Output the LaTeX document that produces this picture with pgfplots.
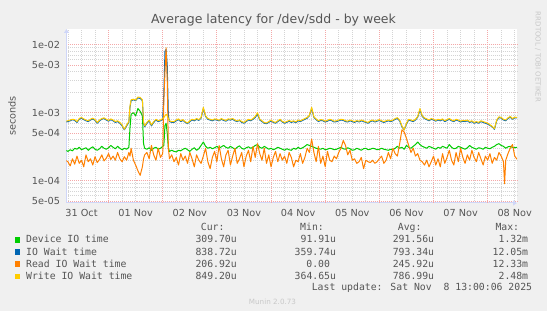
\documentclass[border=0pt]{standalone}
\usepackage{pgfplots}
\pgfplotsset{compat=1.18}
\usepackage{pgfplotstable}
\usetikzlibrary{arrows.meta}
\usepackage{fontspec}
\setmainfont{DejaVu Sans}
\newfontfamily\mono{DejaVu Sans Mono}
\definecolor{bgc}{HTML}{F0F0F0}
\definecolor{fontc}{HTML}{555555}
\definecolor{axisc}{HTML}{CFD6F8}
\definecolor{mgridc}{HTML}{F4A8A8}
\definecolor{gridc}{HTML}{D4D4D4}
\definecolor{devc}{HTML}{00CC00}
\definecolor{ioc}{HTML}{0066B3}
\definecolor{rdc}{HTML}{FF8000}
\definecolor{wrc}{HTML}{FFCC00}
\definecolor{wmc}{HTML}{C8C8C8}

% hours since 31 Oct 00:00; values in microseconds
\pgfplotstableread{
h dev io rd wr
5 280 730 200 750
6 270 740 190 760
7 285 760 165 780
8 275 790 210 800
9 300 770 175 790
10 290 720 230 740
11 310 800 180 820
12 285 830 200 850
13 295 790 160 810
14 305 760 240 780
15 280 740 190 760
16 300 780 210 800
17 315 810 170 830
18 290 770 225 790
19 280 700 185 720
20 295 760 205 780
21 320 800 240 820
22 300 820 195 840
23 290 780 215 800
24 305 750 250 770
25 330 790 205 810
26 310 760 230 780
27 295 720 200 740
28 320 740 260 760
29 300 700 210 720
30 285 640 190 660
31 300 560 225 570
32 290 640 200 660
33 310 720 260 740
33.5 600 1200 230 1250
34 950 1500 300 1550
35 1000 1550 200 1580
36 900 1500 170 1530
37 1150 1650 140 1700
38 1050 1620 120 1680
39 900 1500 160 1550
39.5 350 700 210 720
40 300 620 240 640
41 290 700 260 720
42 305 760 210 780
43 280 640 330 660
44 300 720 240 740
45 310 780 200 800
46 290 740 300 760
47 300 760 220 780
48 320 800 250 820
48.5 330 1900 1500 840
49 650 8000 4000 900
49.5 700 8500 9000 950
50 500 5000 3000 900
50.5 300 900 300 820
51 270 740 210 760
52 280 720 240 740
53 270 720 190 740
54 265 760 220 780
55 280 790 170 810
56 275 740 250 760
57 290 770 200 790
58 300 720 230 735
59 285 690 180 705
60 270 740 260 760
61 290 780 210 800
62 305 760 160 780
63 280 800 240 820
64 295 770 200 790
65 330 830 180 850
66 370 1150 230 1200
67 320 880 300 900
68 300 800 190 820
69 310 780 150 800
70 295 760 220 780
71 305 790 270 810
72 320 780 190 800
73 300 760 330 775
74 315 800 210 820
75 330 770 160 790
76 310 750 240 770
77 300 790 280 810
78 320 780 170 800
79 305 800 230 820
80 290 760 300 780
81 310 740 180 755
82 325 770 210 785
83 300 720 260 740
84 290 700 160 720
85 305 740 230 760
86 315 780 280 800
87 300 760 190 780
88 310 800 320 820
89 330 850 220 880
90 340 960 350 1000
91 310 780 250 800
92 300 740 200 760
93 320 700 300 715
94 305 690 180 705
95 290 720 240 740
96 300 760 160 780
97 285 720 220 735
98 295 700 270 720
99 310 740 190 760
100 300 780 250 800
101 290 730 200 745
102 280 700 230 720
103 295 720 180 740
104 285 750 260 770
105 280 720 220 740
106 300 740 160 760
107 290 710 200 730
108 310 760 190 780
109 295 740 250 760
110 305 770 180 790
111 320 800 220 820
112 340 830 300 850
113 330 900 260 920
114 320 1150 410 1200
115 310 850 260 870
116 300 790 190 810
117 295 740 320 760
118 290 770 180 790
119 300 760 230 780
120 285 730 160 750
121 290 750 270 770
122 300 780 200 800
123 295 760 190 780
124 285 730 230 750
125 290 740 210 760
126 300 760 260 780
127 310 780 300 800
128 295 770 390 790
129 290 740 330 760
130 305 730 240 750
131 295 760 280 780
132 280 740 200 760
133 285 720 210 740
134 300 750 180 765
135 290 730 190 750
136 280 760 220 780
137 295 740 150 760
138 300 720 200 735
139 285 700 190 720
140 290 740 185 760
141 300 760 200 780
142 295 730 180 750
143 285 750 190 770
144 290 770 210 790
145 300 740 230 760
146 290 720 180 740
147 285 740 200 760
148 280 760 260 780
149 290 740 210 760
150 285 760 300 780
151 300 800 250 820
152 320 820 230 845
153 300 760 350 780
154 310 620 560 640
155 290 560 520 560
156 330 680 420 700
157 310 780 330 800
158 300 760 260 780
159 320 740 300 760
160 340 780 230 800
161 370 860 250 880
162 340 1100 200 1150
163 320 880 190 900
164 310 820 170 840
165 300 790 200 810
166 320 760 160 780
167 310 800 190 820
168 300 780 230 800
169 290 750 170 770
170 310 780 210 800
171 300 760 160 780
172 320 790 250 810
173 310 740 180 760
174 300 770 220 790
175 340 800 280 820
176 310 760 200 780
177 295 740 170 760
178 300 780 260 800
179 320 760 190 780
180 310 730 300 750
181 300 750 220 770
182 290 740 180 760
183 305 760 240 780
184 330 720 200 740
185 310 740 280 760
186 300 700 220 720
187 290 720 190 740
188 305 700 260 720
189 300 740 210 760
190 290 720 170 740
191 310 700 230 720
192 300 680 200 700
193 295 650 250 665
194 310 620 180 630
195 320 570 220 580
196 340 760 200 780
197 350 850 260 870
198 330 830 230 850
199 320 780 190 800
199.5 310 770 90 790
200 300 760 200 780
201 315 820 250 840
202 320 860 300 880
203 310 800 340 820
204 305 840 230 860
205 309.7 838.72 206.92 849.2
}\data

\begin{document}
\begin{tikzpicture}
\fill[bgc] (0,0) rectangle (547pt,311pt);
\begin{axis}[
  at={(66.5pt,108pt)}, anchor=south west,
  width=450.5pt, height=174pt, scale only axis,
  xmin=5.36, xmax=205,
  ymode=log, log basis y=10, ymin=47, ymax=17000,
  axis x line*=bottom, axis y line*=left,
  axis line style={draw=axisc, line width=1pt},
  x axis line style={-{Triangle[length=4pt,width=5pt]}},
  y axis line style={-{Triangle[length=4pt,width=5pt]}},
  axis background/.style={fill=white},
  xtick={12,36,...,204},
  xticklabels={31 Oct,01 Nov,02 Nov,03 Nov,04 Nov,05 Nov,06 Nov,07 Nov,08 Nov},
  minor xtick={6,12,...,204},
  extra x ticks={24,48,...,192},
  extra x tick labels={},
  extra x tick style={grid=major},
  xmajorgrids=false, xminorgrids=true,
  ytick={50,100,500,1000,5000,10000},
  yticklabels={5e-05,1e-04,5e-04,1e-03,5e-03,1e-02},
  minor ytick={60,70,80,90,200,300,400,600,700,800,900,2000,3000,4000,6000,7000,8000,9000},
  ymajorgrids=true, yminorgrids=true,
  major grid style={dash pattern=on 1pt off 1pt, draw=mgridc, line width=0.8pt},
  minor grid style={dash pattern=on 1pt off 1pt, draw=gridc, line width=0.8pt},
  tick style={draw=none},
  ticklabel style={font=\fontsize{9.7}{11}\selectfont, text=fontc},
  xticklabel style={yshift=-2.5pt},
  yticklabel style={xshift=-3pt},
  clip=true,
]
\addplot[devc, line width=1pt, mark=none, line join=round] table[x=h,y=dev]{\data};
\addplot[ioc, line width=1pt, mark=none, line join=round] table[x=h,y=io]{\data};
\addplot[rdc, line width=1pt, mark=none, line join=round] table[x=h,y=rd]{\data};
\addplot[wrc, line width=1pt, mark=none, line join=round] table[x=h,y=wr]{\data};
\end{axis}

% title and side texts
\node[anchor=base, font=\fontsize{12.5}{14}\selectfont, text=fontc] at (273.5pt,287pt) {Average latency for /dev/sdd - by week};
\node[rotate=90, anchor=center, font=\fontsize{9.7}{11}\selectfont, text=fontc] at (12pt,195pt) {seconds};
\node[rotate=-90, anchor=center, font=\fontsize{7}{8}\selectfont, text=wmc] at (538pt,254pt) {RRDTOOL / TOBI OETIKER};
\node[anchor=center, font=\fontsize{7.2}{8}\selectfont, text=wmc] at (272.5pt,9pt) {Munin 2.0.73};

% legend table
\begin{scope}[every node/.style={font=\mono\fontsize{9.8}{11}\selectfont, text=fontc, inner sep=0pt}]
\node[anchor=base east] at (224.7pt,80pt) {Cur:};
\node[anchor=base east] at (324pt,80pt) {Min:};
\node[anchor=base east] at (421.7pt,80pt) {Avg:};
\node[anchor=base east] at (519.3pt,80pt) {Max:};

\node[anchor=base west] at (14.3pt,68pt) {\textcolor{devc}{\rule{5.8pt}{5.8pt}}};
\node[anchor=base west] at (14.3pt,55.9pt) {\textcolor{ioc}{\rule{5.8pt}{5.8pt}}};
\node[anchor=base west] at (14.3pt,43.8pt) {\textcolor{rdc}{\rule{5.8pt}{5.8pt}}};
\node[anchor=base west] at (14.3pt,31.7pt) {\textcolor{wrc}{\rule{5.8pt}{5.8pt}}};

\node[anchor=base west] at (26pt,68pt) {Device IO time};
\node[anchor=base west] at (26pt,55.9pt) {IO Wait time};
\node[anchor=base west] at (26pt,43.8pt) {Read IO Wait time};
\node[anchor=base west] at (26pt,31.7pt) {Write IO Wait time};

\node[anchor=base east] at (237pt,68pt) {309.70u};
\node[anchor=base east] at (237pt,55.9pt) {838.72u};
\node[anchor=base east] at (237pt,43.8pt) {206.92u};
\node[anchor=base east] at (237pt,31.7pt) {849.20u};

\node[anchor=base east] at (336.2pt,68pt) {91.91u};
\node[anchor=base east] at (336.2pt,55.9pt) {359.74u};
\node[anchor=base east] at (330.2pt,43.8pt) {0.00};
\node[anchor=base east] at (336.2pt,31.7pt) {364.65u};

\node[anchor=base east] at (434.3pt,68pt) {291.56u};
\node[anchor=base east] at (434.3pt,55.9pt) {793.34u};
\node[anchor=base east] at (434.3pt,43.8pt) {245.92u};
\node[anchor=base east] at (434.3pt,31.7pt) {786.99u};

\node[anchor=base east] at (528.3pt,68pt) {1.32m};
\node[anchor=base east] at (528.3pt,55.9pt) {12.05m};
\node[anchor=base east] at (528.3pt,43.8pt) {12.33m};
\node[anchor=base east] at (528.3pt,31.7pt) {2.48m};

\node[anchor=base east] at (532.3pt,20.5pt) {Last update: Sat Nov\ \ 8 13:00:06 2025};
\end{scope}

\pgfresetboundingbox
\path (0,0) rectangle (547pt,311pt);
\end{tikzpicture}
\end{document}
